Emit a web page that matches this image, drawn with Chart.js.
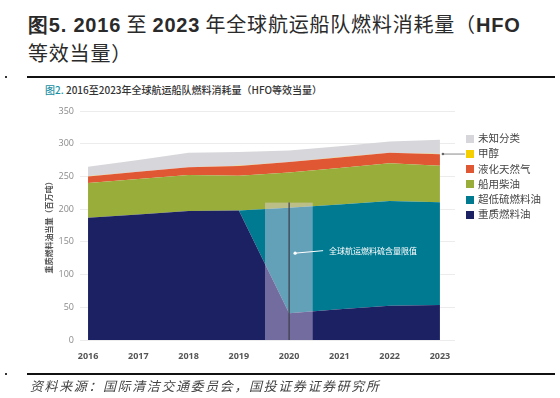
<!DOCTYPE html>
<html>
<head>
<meta charset="utf-8">
<script src="https://cdn.jsdelivr.net/npm/chart.js@4.4.1/dist/chart.umd.min.js"></script>
<style>
  body { margin: 0; width: 560px; height: 398px; background: #fff; position: relative; overflow: hidden; font-family: "Noto Sans CJK SC", sans-serif; }
  #title { position: absolute; left: 28px; top: 10px; font-size: 20px; line-height: 27px; color: #2a2a2a; letter-spacing: 0.8px; white-space: nowrap; }
  #title b { font-family: "Liberation Sans", sans-serif; font-weight: bold; }
  .rule { position: absolute; left: 27px; width: 528px; height: 2px; background: #111; }
  .dot { position: absolute; left: 5px; width: 2px; height: 2px; background: #333; }
  #sub { position: absolute; left: 45px; top: 82px; font-size: 10px; color: #333; white-space: nowrap; font-weight: 500; }
  #sub span { color: #1a8fa3; }
  #chart { position: absolute; left: 0; top: 0; }
  #legend { position: absolute; left: 466px; top: 130px; font-size: 10.5px; color: #444; }
  #legend div { height: 15.3px; line-height: 15.3px; white-space: nowrap; }
  #legend i { display: inline-block; width: 8px; height: 8px; margin-right: 4px; vertical-align: -0.5px; }
  #source { position: absolute; left: 30px; top: 376px; font-size: 13px; color: #444; font-style: italic; letter-spacing: 1.6px; white-space: nowrap; }
</style>
</head>
<body>
<div id="title"><b>图5. 2016</b> 至 <b>2023</b> 年全球航运船队燃料消耗量（<b>HFO</b><br>等效当量）</div>
<div class="rule" style="top:76px"></div>
<div class="dot" style="top:76px"></div>
<div id="sub"><span>图2.</span> 2016至2023年全球航运船队燃料消耗量（HFO等效当量）</div>
<canvas id="chart" width="560" height="398"></canvas>
<div id="legend"></div>
<div class="rule" style="top:373px"></div>
<div class="dot" style="top:373px"></div>
<div id="source">资料来源：国际清洁交通委员会，国投证券证券研究所</div>
<script>
// 数据（百万吨 HFO 当量）
const years = [2016, 2017, 2018, 2019, 2020, 2021, 2022, 2023];
const hfo = [187, 192, 197, 198, 41, 47, 52.5, 53.5];
const ulsfo = [0, 0, 0, 0, 161, 160, 160, 157];
const mgo = [53, 54, 55, 53, 54, 56, 57.5, 56];
const lng = [10, 11, 12, 15, 16, 16, 16, 17.5];
const methanol = [0.2, 0.2, 0.2, 0.2, 0.2, 0.2, 0.2, 0.2];
const unknown = [14.5, 18, 22, 21, 17.5, 17, 17, 22];
const seriesNames = ['重质燃料油', '超低硫燃料油', '船用柴油', '液化天然气', '甲醇', '未知分类'];
const seriesColors = ['#1b2163', '#007a91', '#99ad3b', '#e05833', '#f5cf00', '#d7d6da'];
const yTicks = [0, 50, 100, 150, 200, 250, 300, 350];
const limitYear = 2020;
const limitLabel = '全球航运燃料硫含量限值';
const yTitle = '重质燃料油当量（百万吨）';

const allSeries = [hfo, ulsfo, mgo, lng, methanol, unknown];

// 图例（倒序，和原图一致）
const legend = document.getElementById('legend');
for (let i = seriesNames.length - 1; i >= 0; i--) {
  const row = document.createElement('div');
  row.innerHTML = '<i style="background:' + seriesColors[i] + '"></i>' + seriesNames[i];
  legend.appendChild(row);
}

// 硫限值标注 + 甲醇引线
const annotations = {
  id: 'annotations',
  afterDatasetsDraw(chart) {
    const { ctx } = chart;
    const x = chart.scales.x, y = chart.scales.y;
    const x0 = x.getPixelForValue(limitYear - 0.48);
    const x1 = x.getPixelForValue(limitYear + 0.47);
    const xm = x.getPixelForValue(limitYear);
    const yTop = y.getPixelForValue(210);
    const yBot = y.getPixelForValue(0);
    ctx.save();
    ctx.fillStyle = 'rgba(236,214,240,0.42)';
    ctx.fillRect(x0, yTop, x1 - x0, yBot - yTop);
    ctx.strokeStyle = '#3d3d4a';
    ctx.lineWidth = 1.2;
    ctx.beginPath();
    ctx.moveTo(xm, yTop);
    ctx.lineTo(xm, yBot);
    ctx.stroke();

    // 标注文字
    const ly = y.getPixelForValue(135);
    ctx.strokeStyle = '#ffffff';
    ctx.fillStyle = '#ffffff';
    ctx.lineWidth = 1;
    ctx.beginPath();
    ctx.moveTo(xm + 6, ly + 1.5);
    ctx.lineTo(xm + 34, ly - 1);
    ctx.stroke();
    ctx.beginPath();
    ctx.arc(xm + 6, ly + 1.5, 1.6, 0, Math.PI * 2);
    ctx.fill();
    ctx.font = '8px "Noto Sans CJK SC"';
    ctx.textBaseline = 'middle';
    ctx.fillText(limitLabel, xm + 40, ly - 1);

    // 甲醇引线
    const last = years.length - 1;
    const mTop = hfo[last] + ulsfo[last] + mgo[last] + lng[last] + methanol[last];
    const my = y.getPixelForValue(mTop);
    const mx = x.getPixelForValue(years[last]) + 3;
    ctx.strokeStyle = '#8a8a8a';
    ctx.fillStyle = '#666';
    ctx.beginPath();
    ctx.moveTo(mx, my);
    ctx.lineTo(mx + 22, my);
    ctx.stroke();
    ctx.beginPath();
    ctx.arc(mx, my, 1.3, 0, Math.PI * 2);
    ctx.fill();
    ctx.restore();
  }
};

const datasets = allSeries.map((vals, i) => ({
  label: seriesNames[i],
  data: vals.map((v, j) => ({ x: years[j], y: v })),
  backgroundColor: seriesColors[i],
  borderWidth: 0,
  pointRadius: 0,
  tension: 0,
  fill: i === 0 ? 'origin' : '-1'
}));

new Chart(document.getElementById('chart'), {
  type: 'line',
  data: { datasets },
  options: {
    responsive: false,
    devicePixelRatio: 1,
    animation: false,
    layout: { padding: { left: 0, right: 105, top: 111, bottom: 38 } },
    plugins: { legend: { display: false }, tooltip: { enabled: false } },
    scales: {
      x: {
        type: 'linear',
        min: 2015.84,
        max: 2023.3,
        afterBuildTicks: s => { s.ticks = years.map(v => ({ value: v })); },
        afterFit: s => { s.height = 20; },
        grid: { display: false },
        border: { display: false },
        ticks: {
          padding: 3,
          color: '#555',
          font: { family: 'Open Sans', size: 9, weight: 'bold' },
          callback: v => String(v),
          maxRotation: 0
        }
      },
      y: {
        stacked: true,
        min: 0,
        max: 350,
        afterBuildTicks: s => { s.ticks = yTicks.map(v => ({ value: v })); },
        afterFit: s => { s.width = 80; },
        grid: { color: '#ececec', drawTicks: false, lineWidth: 1 },
        border: { display: false },
        ticks: { padding: 6, color: '#8a8a8a', font: { family: 'Open Sans', size: 9 } },
        title: {
          display: true,
          text: yTitle,
          color: '#555',
          font: { family: 'Noto Sans CJK SC', size: 8, weight: 'bold' },
          padding: { top: 44, bottom: 0 }
        }
      }
    }
  },
  plugins: [annotations]
});
</script>
</body>
</html>
